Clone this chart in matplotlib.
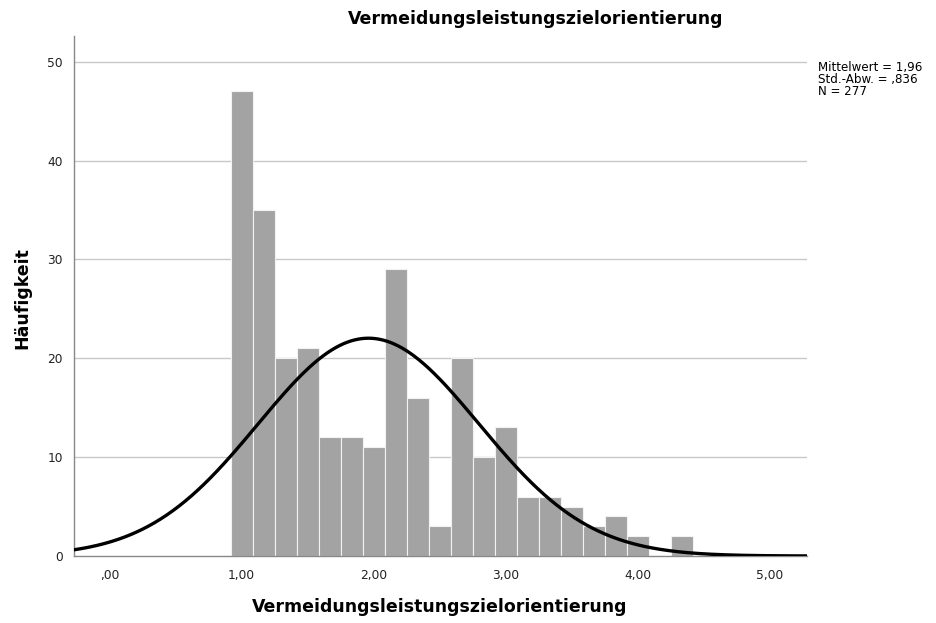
import numpy as np
from matplotlib import pyplot as plt

# Histogram of the scale means (6 items -> steps of 1/6)
bin_centers = [1 + k / 6 for k in range(21)]
counts = [47, 35, 20, 21, 12, 12, 11, 29, 16, 3, 20, 10, 13, 6, 6, 5, 3, 4, 2, 0, 2]
bin_width = 1 / 6

mean = 1.96
sd = 0.836
n = 277

x_ticks = [0, 1, 2, 3, 4, 5]
x_tick_labels = [",00", "1,00", "2,00", "3,00", "4,00", "5,00"]
y_ticks = [0, 10, 20, 30, 40, 50]

title = "Vermeidungsleistungszielorientierung"


def normal_curve(xs):
    return n * bin_width / (sd * np.sqrt(2 * np.pi)) * np.exp(-0.5 * ((xs - mean) / sd) ** 2)


def main():
    fig = plt.figure(figsize=(9.37, 6.23), dpi=100)
    W, H = 937, 623
    left, right, top, bottom = 74, 807, 36, 556
    ax = fig.add_axes([left / W, 1 - bottom / H, (right - left) / W, (bottom - top) / H])

    ax.set_xlim(-0.27, 5.28)
    ax.set_ylim(0, 52.6)

    for y in y_ticks[1:]:
        ax.axhline(y, color="#c8c8c8", lw=1.0, zorder=0)

    ax.bar(bin_centers, counts, width=bin_width, color="#a3a3a3",
           edgecolor="#f2f2f2", linewidth=0.8, zorder=2)

    xs = np.linspace(-0.27, 5.28, 600)
    ax.plot(xs, normal_curve(xs), color="black", lw=2.4, zorder=3)

    ax.set_xticks(x_ticks)
    ax.set_xticklabels(x_tick_labels)
    ax.set_yticks(y_ticks)
    ax.tick_params(length=0, labelsize=8.8, colors="#222222", pad=9)
    ax.tick_params(axis="y", pad=8)

    for side in ("top", "right"):
        ax.spines[side].set_visible(False)
    for side in ("left", "bottom"):
        ax.spines[side].set_color("#888888")
        ax.spines[side].set_linewidth(1.0)

    # axis titles placed in figure pixels
    fig.text(440 / W, 1 - 607 / H, title, ha="center", va="center",
             fontsize=12.5, fontweight="bold")
    fig.text(22 / W, 1 - 298 / H, "Häufigkeit", ha="center", va="center",
             rotation=90, fontsize=12.5, fontweight="bold")

    fig.text(536 / W, 1 - 19 / H, title, ha="center", va="center",
             fontsize=12.5, fontweight="bold")

    stats = "Mittelwert = 1,96\nStd.-Abw. = ,836\nN = 277"
    fig.text(818 / W, 1 - 61 / H, stats, ha="left", va="top",
             fontsize=8.6, linespacing=0.92)

    fig.savefig("out.png", dpi=100)


if __name__ == "__main__":
    main()
